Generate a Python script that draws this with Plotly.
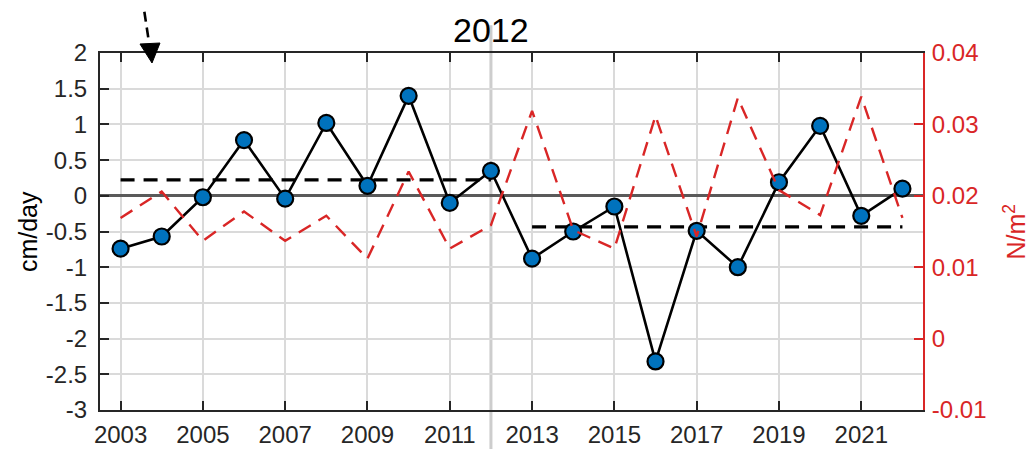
import numpy as np
import plotly.graph_objects as go

years = list(range(2003, 2023))
speed = [-0.74, -0.57, -0.02, 0.78, -0.04, 1.02, 0.14, 1.40, -0.10, 0.35,
         -0.88, -0.50, -0.15, -2.32, -0.49, -1.00, 0.19, 0.98, -0.28, 0.10]
stress = [0.0169, 0.0206, 0.0137, 0.0178, 0.0137, 0.0172, 0.0112, 0.0234, 0.0126, 0.0159,
          0.0319, 0.0152, 0.0126, 0.0312, 0.0143, 0.0337, 0.0208, 0.0173, 0.0339, 0.0169]
split_year = 2012
xtick_vals = list(range(2003, 2022, 2))
ytick_left = [2, 1.5, 1, 0.5, 0, -0.5, -1, -1.5, -2, -2.5, -3]
ytick_right = [0.04, 0.03, 0.02, 0.01, 0, -0.01]

FONT = "Liberation Sans, Arial, Helvetica, sans-serif"
RED = "rgb(217,38,38)"
BLUE = "#0072BD"
TICKFS = 24

y_arr = np.array(speed)
yr = np.array(years)
mean1 = float(y_arr[yr <= split_year].mean())
mean2 = float(y_arr[yr > split_year].mean())

fig = go.Figure()

# red dashed wind stress on right axis
fig.add_trace(go.Scatter(x=years, y=stress, yaxis="y2", mode="lines",
                         line=dict(color=RED, width=2.4, dash="14px,9px"),
                         showlegend=False))
# period means
fig.add_trace(go.Scatter(x=[years[0], split_year], y=[mean1, mean1], mode="lines",
                         line=dict(color="black", width=3.2, dash="14px,9px"), showlegend=False))
fig.add_trace(go.Scatter(x=[split_year + 1, years[-1]], y=[mean2, mean2], mode="lines",
                         line=dict(color="black", width=3.2, dash="14px,9px"), showlegend=False))
# main series
fig.add_trace(go.Scatter(x=years, y=speed, mode="lines+markers",
                         line=dict(color="black", width=2.6),
                         marker=dict(size=16, color=BLUE, line=dict(color="black", width=2.2)),
                         showlegend=False))

# vertical split line
fig.add_shape(type="line", xref="x", yref="paper", x0=split_year, x1=split_year,
              y0=-0.12, y1=1.078, line=dict(color="rgb(205,205,205)", width=3), layer="below")

# dashed arrow at top-left
fig.add_shape(type="line", xref="paper", yref="paper", x0=0.051, y0=1.16, x1=0.0595, y1=1.03,
              line=dict(color="black", width=2.6, dash="10px,6px"))
fig.add_shape(type="path", xref="paper", yref="paper",
              path="M 0.0486 1.0252 L 0.0729 1.028 L 0.0632 0.972 Z",
              fillcolor="black", line=dict(color="black", width=1))

# title and axis labels
fig.add_annotation(x=split_year, y=1.065, xref="x", yref="paper", text="2012",
                   showarrow=False, font=dict(family=FONT, size=34, color="black"),
                   xanchor="center", yanchor="middle")
fig.add_annotation(x=-0.088, y=0.5, xref="paper", yref="paper", text="cm/day",
                   showarrow=False, textangle=-90, xanchor="center", yanchor="middle",
                   font=dict(family=FONT, size=25, color="black"))
fig.add_annotation(x=1.1106, y=0.5, xref="paper", yref="paper", text="N/m<sup>2</sup>",
                   showarrow=False, textangle=-90, xanchor="center", yanchor="middle",
                   font=dict(family=FONT, size=25, color=RED))

# page body has an 8px margin: compensate so the axes land where the reference has them
fig.update_layout(
    width=1027, height=441,
    margin=dict(l=92, r=112, t=45, b=39),
    paper_bgcolor="white", plot_bgcolor="white",
    font=dict(family=FONT, size=TICKFS, color="#262626"),
    xaxis=dict(range=[2002.5, 2022.5], tickvals=xtick_vals, ticktext=[str(v) for v in xtick_vals],
               ticks="inside", ticklen=9, tickwidth=1.5, tickcolor="#262626",
               showline=True, linecolor="#262626", linewidth=2, mirror="ticks",
               showgrid=True, gridcolor="rgb(218,218,218)", gridwidth=2, zeroline=False,
               ticklabelstandoff=2, automargin=False,
               tickfont=dict(size=TICKFS, color="#262626")),
    yaxis=dict(range=[-3, 2], tickvals=ytick_left, ticktext=[f"{v:g}" for v in ytick_left],
               ticks="inside", ticklen=9, tickwidth=1.5, tickcolor="#262626",
               showline=True, linecolor="#262626", linewidth=2,
               showgrid=True, gridcolor="rgb(218,218,218)", gridwidth=2,
               zeroline=True, zerolinecolor="rgb(90,90,90)", zerolinewidth=2.5,
               ticklabelstandoff=6, automargin=False,
               tickfont=dict(size=TICKFS, color="#262626")),
    yaxis2=dict(range=[-0.01, 0.04], overlaying="y", side="right",
                tickvals=ytick_right, ticktext=[f"{v:g}" for v in ytick_right],
                ticks="inside", ticklen=9, tickwidth=1.5, tickcolor=RED,
                showline=True, linecolor=RED, linewidth=2, showgrid=False, zeroline=False,
                ticklabelstandoff=2, automargin=False,
                tickfont=dict(size=TICKFS, color=RED)),
)

fig.write_html("out.html")
